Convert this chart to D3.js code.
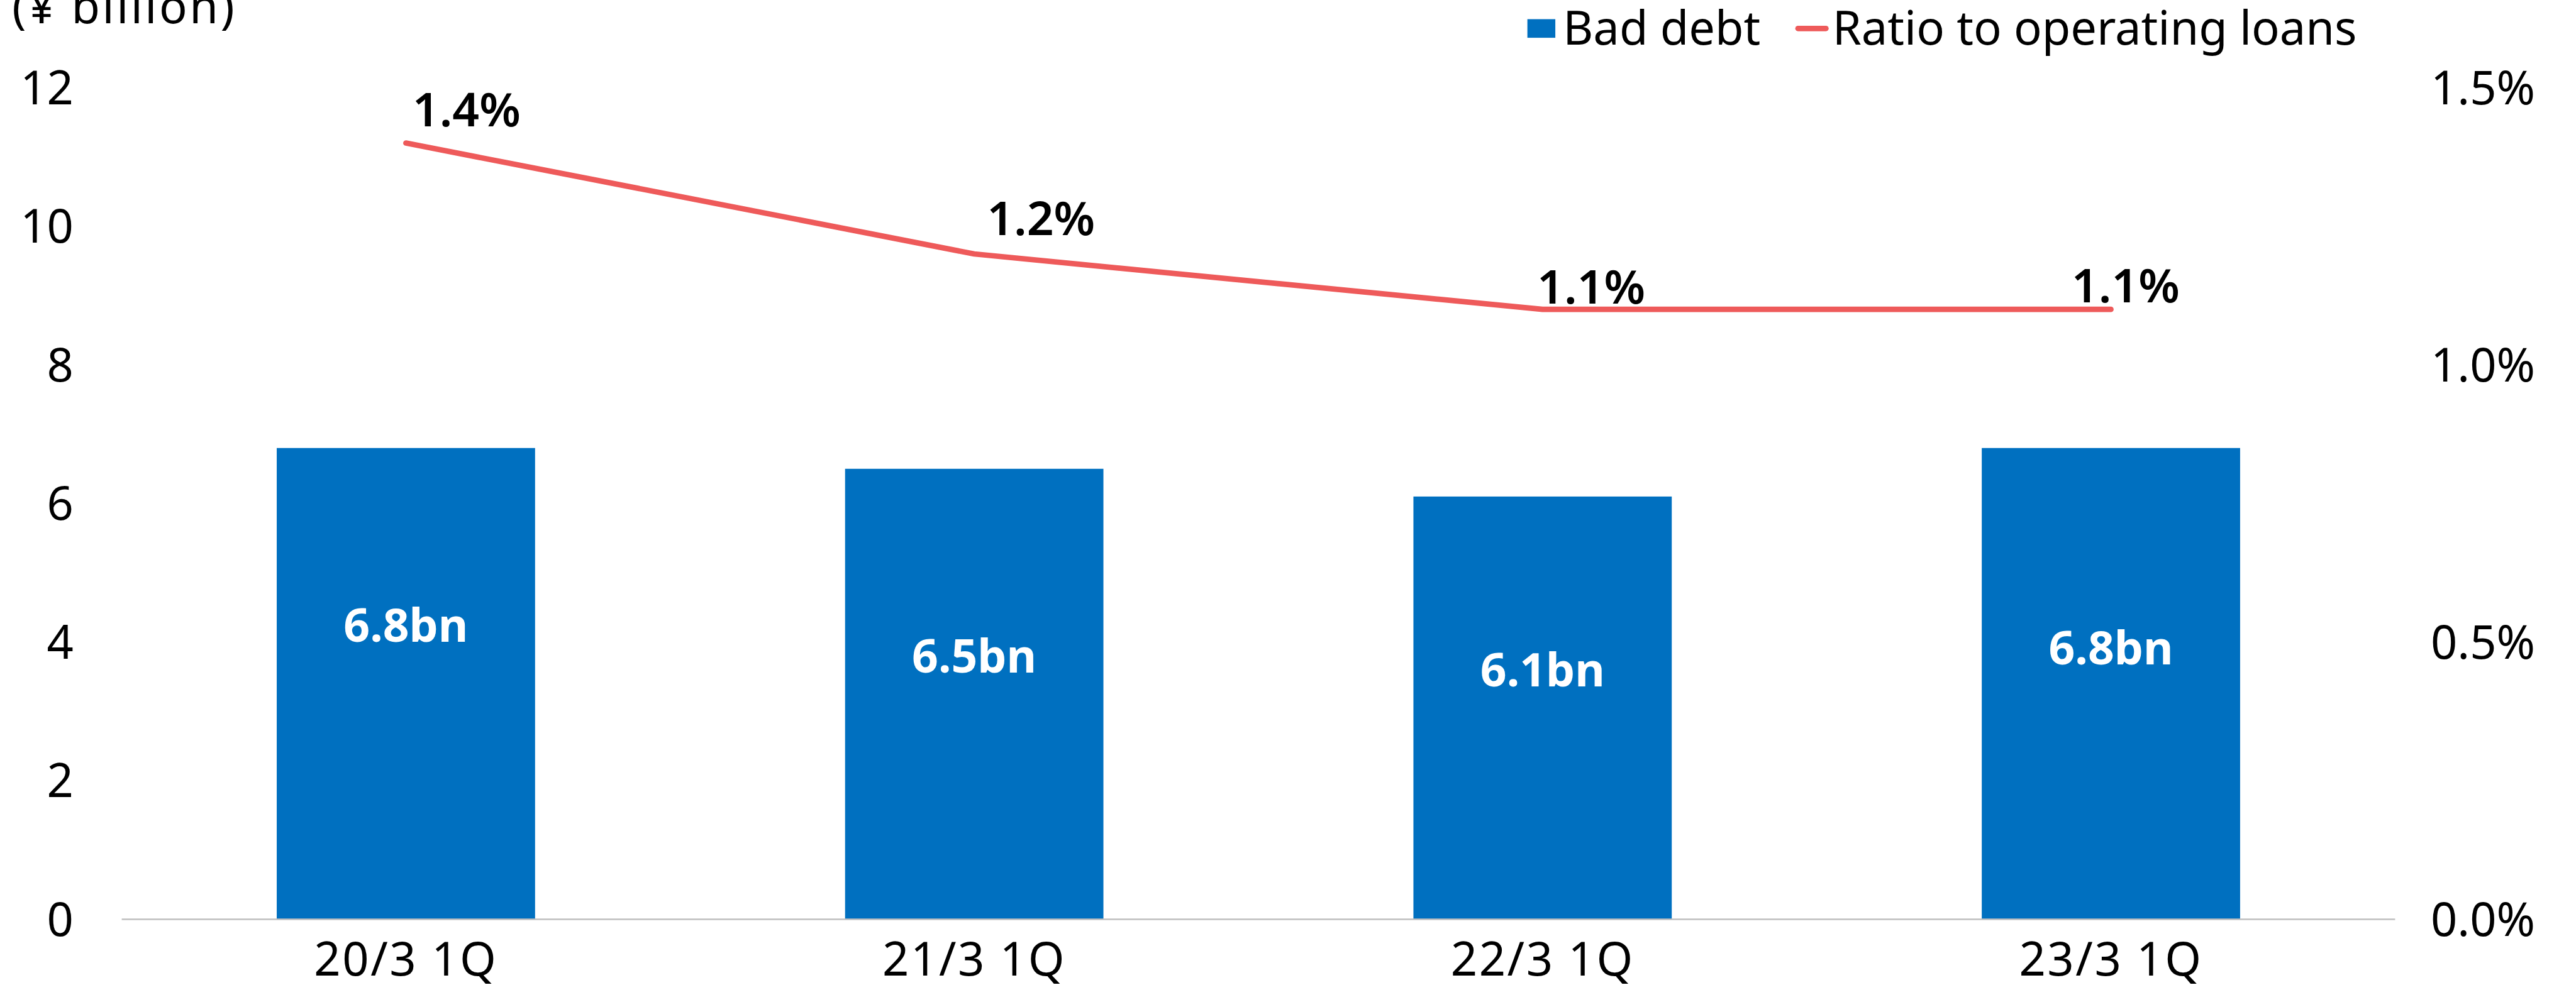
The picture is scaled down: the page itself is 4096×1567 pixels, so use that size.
<!DOCTYPE html>
<html>
<head>
<meta charset="utf-8">
<script src="https://cdn.jsdelivr.net/npm/d3@7"></script>
<style>
  html, body { margin: 0; padding: 0; background: #ffffff; overflow: hidden; }
  svg { display: block; }
  text { font-family: "Noto Sans", "Open Sans", sans-serif; fill: #000; }
</style>
</head>
<body>
<svg id="chart" width="4096" height="1567" viewBox="0 0 4702 1799"></svg>
<script>
// Quarterly bad debt (¥ billion) and its ratio to operating loans (%)
const categories = ["20/3 1Q", "21/3 1Q", "22/3 1Q", "23/3 1Q"];
const badDebt = [6.8, 6.5, 6.1, 6.8];
const ratioToLoans = [1.4, 1.2, 1.1, 1.1];
const leftTicks = [0, 2, 4, 6, 8, 10, 12];
const rightTicks = [0, 0.5, 1.0, 1.5];
const unitLabel = "(¥ billion)";
const seriesNames = ["Bad debt", "Ratio to operating loans"];

// Layout (drawn in a 4702 x 1799 coordinate space, scaled by the viewBox)
const plot = { left: 222, right: 4372, top: 160, bottom: 1679 };
const fontSize = 85;
const barColor = "#0070C0";
const lineColor = "#EE5A5A";

// Hand-placed nudges for the value labels
const barLabelNudge = [-76, -39, -39, -35];            // baseline offset from bar middle
const ratioLabelNudge = [[12, -31], [23, -34], [-10, -11], [-72, -13]]; // [dx from point, baseline dy]

const svg = d3.select("#chart");

const x = d3.scaleBand()
  .domain(categories)
  .range([plot.left, plot.right])
  .paddingInner(1.2 / 2.2)
  .paddingOuter(0.6 / 2.2);

const yLeft = d3.scaleLinear().domain([0, 12]).range([plot.bottom, plot.top]);
const yRight = d3.scaleLinear().domain([0, 1.5]).range([plot.bottom, plot.top]);

const cx = c => x(c) + x.bandwidth() / 2;

// Bars
svg.append("g").selectAll("rect")
  .data(categories)
  .join("rect")
  .attr("x", c => x(c))
  .attr("y", (c, i) => yLeft(badDebt[i]))
  .attr("width", x.bandwidth())
  .attr("height", (c, i) => yLeft(0) - yLeft(badDebt[i]))
  .attr("fill", barColor);

// Category axis line
svg.append("line")
  .attr("x1", plot.left).attr("x2", plot.right)
  .attr("y1", yLeft(0)).attr("y2", yLeft(0))
  .attr("stroke", "#BFBFBF").attr("stroke-width", 3);

// Left axis tick labels
const leftAxis = d3.axisLeft(yLeft).tickValues(leftTicks).tickSize(0).tickPadding(0)
  .tickFormat(d3.format("d"));
svg.append("g")
  .attr("transform", "translate(134,0)")
  .call(leftAxis)
  .call(g => g.select(".domain").remove())
  .call(g => g.selectAll("text")
    .attr("font-size", fontSize)
    .attr("font-family", "'Noto Sans', sans-serif")
    .attr("fill", "#000")
    .attr("dy", "0.35em"));

// Right axis tick labels
const rightAxis = d3.axisRight(yRight).tickValues(rightTicks).tickSize(0).tickPadding(0)
  .tickFormat(d => d.toFixed(1) + "%");
svg.append("g")
  .attr("transform", "translate(4437,0)")
  .call(rightAxis)
  .call(g => g.select(".domain").remove())
  .call(g => g.selectAll("text")
    .attr("font-size", fontSize)
    .attr("font-family", "'Noto Sans', sans-serif")
    .attr("fill", "#000")
    .attr("dy", "0.35em"));

// Category labels
const bottomAxis = d3.axisBottom(x).tickSize(0).tickPadding(0);
svg.append("g")
  .attr("transform", "translate(0,1782)")
  .call(bottomAxis)
  .call(g => g.select(".domain").remove())
  .call(g => g.selectAll("text")
    .attr("font-size", fontSize)
    .attr("font-family", "'Noto Sans', sans-serif")
    .attr("fill", "#000")
    .attr("letter-spacing", 3)
    .attr("dy", 0)
    .attr("y", 0));

// Unit label
svg.append("text")
  .attr("x", 22).attr("y", 43)
  .attr("font-size", fontSize)
  .attr("letter-spacing", 4)
  .text(unitLabel);

// Ratio line
const line = d3.line()
  .x((d, i) => cx(categories[i]))
  .y(d => yRight(d));
svg.append("path")
  .datum(ratioToLoans)
  .attr("d", line)
  .attr("fill", "none")
  .attr("stroke", lineColor)
  .attr("stroke-width", 10)
  .attr("stroke-linecap", "round")
  .attr("stroke-linejoin", "round");

// Bar value labels
svg.append("g").selectAll("text")
  .data(categories)
  .join("text")
  .attr("x", c => cx(c))
  .attr("y", (c, i) => (yLeft(badDebt[i]) + yLeft(0)) / 2 + barLabelNudge[i])
  .attr("text-anchor", "middle")
  .attr("font-size", 84)
  .attr("font-weight", 700)
  .style("fill", "#fff")
  .text((c, i) => badDebt[i].toFixed(1) + "bn");

// Ratio value labels
svg.append("g").selectAll("text")
  .data(categories)
  .join("text")
  .attr("x", (c, i) => cx(c) + ratioLabelNudge[i][0])
  .attr("y", (c, i) => yRight(ratioToLoans[i]) + ratioLabelNudge[i][1])
  .attr("font-size", 86)
  .attr("font-family", "'Open Sans', 'Noto Sans', sans-serif")
  .attr("font-weight", 600)
  .text((c, i) => ratioToLoans[i].toFixed(1) + "%");

// Legend
const legend = svg.append("g");
legend.append("rect")
  .attr("x", 2788).attr("y", 35).attr("width", 51).attr("height", 34)
  .attr("fill", barColor);
legend.append("text")
  .attr("x", 2853).attr("y", 82)
  .attr("font-size", fontSize)
  .text(seriesNames[0]);
legend.append("line")
  .attr("x1", 3282).attr("x2", 3333).attr("y1", 52).attr("y2", 52)
  .attr("stroke", lineColor).attr("stroke-width", 10).attr("stroke-linecap", "round");
legend.append("text")
  .attr("x", 3345).attr("y", 82)
  .attr("font-size", fontSize)
  .text(seriesNames[1]);
</script>
</body>
</html>
